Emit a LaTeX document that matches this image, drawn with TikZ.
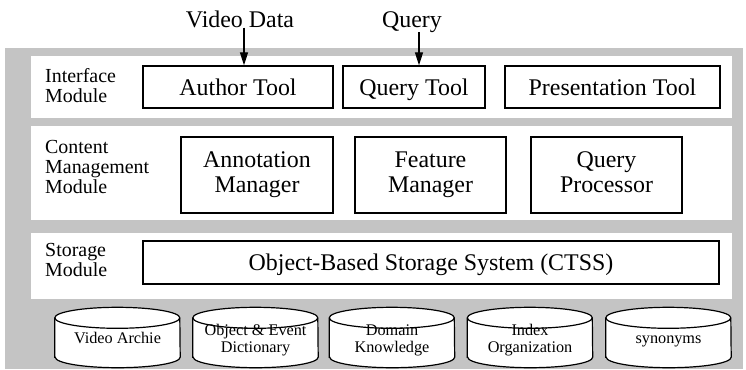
\documentclass[tikz,border=0pt]{standalone}
\usepackage{fontspec}
\setmainfont{Liberation Serif}
\usetikzlibrary{arrows.meta}

\begin{document}
\begin{tikzpicture}[x=1bp,y=1bp,
  panel/.style={fill=white, draw=none},
  modbox/.style={draw, line width=1.3bp, fill=white, inner sep=0pt, align=center,
                 font=\fontsize{24}{25}\selectfont, text height=16bp, text depth=0bp},
  twolines/.style={text height=35bp},
  sidelabel/.style={anchor=west, align=left, inner sep=0pt,
                    font=\fontsize{20}{20}\selectfont},
  store/.style={inner sep=0pt, minimum width=125bp, minimum height=39bp},
  storetext/.style={inner sep=0pt, align=center, font=\fontsize{16.3}{17}\selectfont,
                    text depth=0bp},
  cylline/.style={draw, line width=1.2bp, fill=white},
  inputlabel/.style={inner sep=0pt, font=\fontsize{24}{25}\selectfont},
  feed/.style={-{Triangle[length=13bp,width=8bp]}, line width=1.2bp}
]
\useasboundingbox (0,0) rectangle (746,369);

% shaded backdrop and the three white module bands
\fill[black!23] (5,0) rectangle (743,321);
\fill[panel] (31,251) rectangle (732,313);
\fill[panel] (31,149) rectangle (732,243);
\fill[panel] (31,70) rectangle (732,136);

% module names
\node[sidelabel] (lint) at (45,283) {Interface\\Module};
\node[sidelabel] (lcont) at (45,202) {Content\\Management\\Module};
\node[sidelabel] (lstor) at (45,109) {Storage\\Module};

% interface module
\node[modbox, minimum width=190bp, minimum height=42bp] (author) at (238,282) {Author Tool};
\node[modbox, minimum width=142bp, minimum height=42bp] (qtool) at (414,282) {Query Tool};
\node[modbox, minimum width=215bp, minimum height=42bp] (pres) at (612.5,282) {Presentation Tool};

% content management module
\node[modbox, twolines, minimum width=152bp, minimum height=76bp] (annot) at (257,194) {Annotation\\Manager};
\node[modbox, twolines, minimum width=151bp, minimum height=76bp] (feat) at (430.5,194) {Feature\\Manager};
\node[modbox, twolines, minimum width=151bp, minimum height=76bp] (qproc) at (606.5,194) {Query\\Processor};

% storage module
\node[modbox, minimum width=576bp, minimum height=43bp] (ctss) at (431,106.5) {Object-Based Storage System (CTSS)};

% inputs
\node[inputlabel, anchor=base] (vdata) at (240,342) {Video Data};
\node[inputlabel, anchor=base] (query) at (412,342) {Query};
\draw[feed] ([xshift=4bp]vdata.south) -- ([xshift=4bp]vdata.south |- author.north);
\draw[feed] ([xshift=7bp]query.south) -- ([xshift=7bp]query.south |- qtool.north);

% databases
\foreach \name/\cx/\txt/\capheight in {
    dbvideo/117.5/{Video Archie}/11,
    dbobject/255.5/{Object \& Event\\Dictionary}/28,
    dbdomain/392/{Domain\\Knowledge}/28,
    dbindex/530/{Index\\Organization}/28,
    dbsyn/668.5/{synonyms}/11} {
  \node[store] (\name) at (\cx,31.5) {};
  \path[cylline] (\name.south west) -- (\name.north west)
    arc[start angle=180, end angle=0, x radius=62.5bp, y radius=10.5bp]
    -- (\name.south east)
    arc[start angle=0, end angle=-180, x radius=62.5bp, y radius=10.5bp] -- cycle;
  \draw[line width=1.2bp] (\name.north west)
    arc[start angle=180, end angle=360, x radius=62.5bp, y radius=10.5bp];
  \node[storetext, text height=\capheight bp] (\name-label) at ([yshift=-0.5bp]\name.center) {\txt};
}
\end{tikzpicture}
\end{document}
